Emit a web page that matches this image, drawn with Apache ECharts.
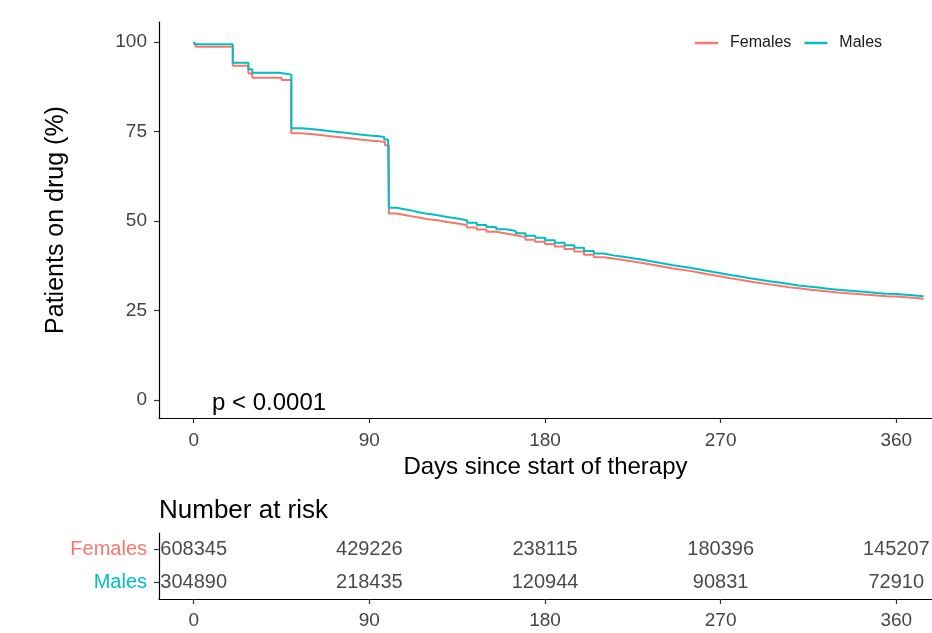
<!DOCTYPE html>
<html>
<head>
<meta charset="utf-8">
<script src="https://cdn.jsdelivr.net/npm/echarts@6/dist/echarts.min.js"></script>
<style>html,body{margin:0;padding:0;background:#fff}#c{width:932px;height:633px}</style>
</head>
<body>
<div id="c"></div>
<script>
// ---- Data ----
var groups = ['Females', 'Males'];
var femaleTimes = [0,1,20,28,30,45,50,55,60,65,70,75,80,85,90,95,98,100,104,108,112,116,120,125,130,135,140,145,150,155,160,165,170,175,180,185,190,195,200,205,210,215,220,225,230,235,240,245,250,255,260,265,270,275,280,285,290,295,300,305,310,315,320,325,330,335,340,345,350,355,360,365,370,374];
var femaleSurv = [100,98.7,93.4,91.2,90.0,89.4,74.5,74.3,74.0,73.7,73.4,73.1,72.8,72.5,72.3,72.1,71.2,52.1,51.7,51.3,50.9,50.5,50.2,49.7,49.3,48.9,48.2,47.6,47.0,46.5,46.0,45.5,44.8,44.2,43.6,42.9,42.2,41.5,40.6,39.9,39.5,39.1,38.7,38.3,37.8,37.3,36.8,36.4,36.0,35.5,35.0,34.5,34.0,33.6,33.1,32.7,32.3,31.9,31.5,31.2,30.9,30.6,30.3,30.0,29.8,29.6,29.4,29.2,29.0,28.9,28.7,28.5,28.3,28.2];
var maleTimes = [0,1,20,28,30,44,50,55,60,65,70,75,80,85,90,95,97.6,99.6,100,104,108,112,116,120,125,130,135,140,145,150,155,160,165,170,175,180,185,190,195,200,205,210,215,220,225,230,235,240,245,250,255,260,265,270,275,280,285,290,295,300,305,310,315,320,325,330,335,340,345,350,355,360,365,370,374];
var maleSurv = [100,99.4,94.2,92.4,91.4,90.9,75.9,75.7,75.4,75.1,74.8,74.5,74.2,73.9,73.7,73.5,72.8,71.5,53.7,53.3,52.9,52.4,52.0,51.6,51.1,50.7,50.2,49.5,48.9,48.3,47.7,47.2,46.6,45.9,45.3,44.6,43.9,43.2,42.5,41.6,40.9,40.4,40.0,39.6,39.2,38.7,38.2,37.7,37.3,36.9,36.4,35.9,35.4,34.9,34.5,34.0,33.6,33.2,32.8,32.4,32.0,31.7,31.4,31.1,30.8,30.6,30.4,30.2,29.9,29.7,29.6,29.4,29.2,29.0,28.9];
var xTicks = [0, 90, 180, 270, 360];
var yTicks = [0, 25, 50, 75, 100];
var riskTimes = [0, 90, 180, 270, 360];
var riskFemales = [608345, 429226, 238115, 180396, 145207];
var riskMales = [304890, 218435, 120944, 90831, 72910];
var pText = 'p < 0.0001';

var colF = '#F8766D', colM = '#00BFC4';
var FONT = '"Liberation Sans", Arial, sans-serif';
var XMIN = -17.8, XMAX = 378.3;

function pairs(t, v) { return t.map(function (x, i) { return [x, v[i]]; }); }
var riskData = [];
riskTimes.forEach(function (t, i) {
  riskData.push([t, 'Females', riskFemales[i]]);
  riskData.push([t, 'Males', riskMales[i]]);
});

var axisLineStyle = { color: '#000', width: 1.2 };
var tickStyle = { color: '#333', width: 1.2 };
var labelStyle = { color: '#444', fontSize: 19, fontFamily: FONT };

var option = {
  backgroundColor: '#fff',
  animation: false,
  textStyle: { fontFamily: FONT },
  legend: {
    data: [
      { name: 'Females', icon: 'rect', itemStyle: { color: colF } },
      { name: 'Males', icon: 'rect', itemStyle: { color: colM } }
    ],
    left: 690, top: 30,
    itemWidth: 23, itemHeight: 2.5, itemGap: 13,
    textStyle: { fontSize: 16, color: '#1a1a1a', fontFamily: FONT, padding: [0, 0, 0, 7] }
  },
  grid: [
    { left: 159, right: -8, top: 22, bottom: 215, containLabel: false },
    { left: 159, right: -8, top: 533, bottom: 34, containLabel: false }
  ],
  xAxis: [
    {
      type: 'value', gridIndex: 0, min: XMIN, max: XMAX,
      name: 'Days since start of therapy', nameLocation: 'middle', nameGap: 36,
      nameTextStyle: { fontSize: 24, color: '#000', fontFamily: FONT },
      axisLine: { show: true, onZero: false, lineStyle: axisLineStyle },
      axisTick: { show: true, length: 5, lineStyle: tickStyle, customValues: xTicks },
      axisLabel: Object.assign({ margin: 13, customValues: xTicks }, labelStyle),
      splitLine: { show: false }
    },
    {
      type: 'value', gridIndex: 1, min: XMIN, max: XMAX,
      axisLine: { show: true, onZero: false, lineStyle: axisLineStyle },
      axisTick: { show: true, length: 5, lineStyle: tickStyle, customValues: xTicks },
      axisLabel: Object.assign({ margin: 12, customValues: xTicks }, labelStyle),
      splitLine: { show: false }
    }
  ],
  yAxis: [
    {
      type: 'value', gridIndex: 0, min: -5.03, max: 105.6,
      name: 'Patients on drug (%)', nameLocation: 'middle', nameGap: 90,
      nameTextStyle: { fontSize: 25, color: '#000', fontFamily: FONT },
      axisLine: { show: true, onZero: false, lineStyle: axisLineStyle },
      axisTick: { show: true, length: 5, lineStyle: tickStyle, customValues: yTicks },
      axisLabel: Object.assign({ margin: 12, customValues: yTicks }, labelStyle),
      splitLine: { show: false }
    },
    {
      type: 'category', gridIndex: 1, data: ['Males', 'Females'],
      axisLine: { show: true, onZero: false, lineStyle: axisLineStyle },
      axisTick: { show: true, length: 5, alignWithLabel: true, lineStyle: tickStyle },
      axisLabel: {
        margin: 12, fontSize: 20, fontFamily: FONT,
        formatter: function (v) { return v === 'Females' ? '{f|' + v + '}' : '{m|' + v + '}'; },
        rich: { f: { color: colF, fontSize: 20, fontFamily: FONT }, m: { color: colM, fontSize: 20, fontFamily: FONT } }
      },
      splitLine: { show: false }
    }
  ],
  series: [
    {
      name: 'Females', type: 'line', xAxisIndex: 0, yAxisIndex: 0, step: 'end',
      showSymbol: false, symbol: 'none', clip: true,
      itemStyle: { color: colF }, lineStyle: { color: colF, width: 2 },
      data: pairs(femaleTimes, femaleSurv)
    },
    {
      name: 'Males', type: 'line', xAxisIndex: 0, yAxisIndex: 0, step: 'end',
      showSymbol: false, symbol: 'none', clip: true,
      itemStyle: { color: colM }, lineStyle: { color: colM, width: 2 },
      data: pairs(maleTimes, maleSurv)
    },
    {
      name: 'risk', type: 'scatter', xAxisIndex: 1, yAxisIndex: 1,
      symbolSize: 1, itemStyle: { color: 'rgba(0,0,0,0)' }, silent: true,
      label: {
        show: true, position: 'inside', color: '#1a1a1a', fontSize: 20, fontFamily: FONT,
        formatter: function (p) { return String(p.value[2]); }
      },
      data: riskData
    }
  ],
  graphic: [
    { type: 'text', left: 212, top: 391, style: { text: pText, fontSize: 24, fill: '#000', fontFamily: FONT } },
    { type: 'text', left: 159, top: 498, style: { text: 'Number at risk', fontSize: 26, fill: '#000', fontFamily: FONT } }
  ]
};
var chart = echarts.init(document.getElementById('c'), null, { renderer: 'canvas' });
chart.setOption(option);
</script>
</body>
</html>
